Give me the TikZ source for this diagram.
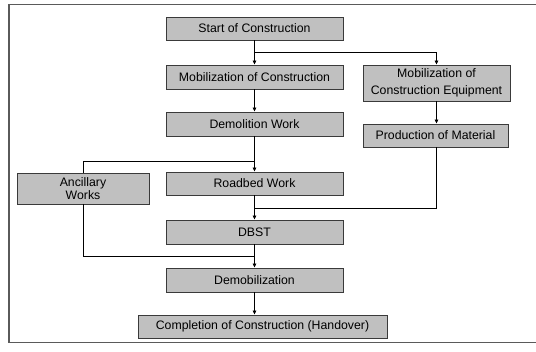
\documentclass[tikz,border=0pt]{standalone}
\usepackage{fontspec}
\setmainfont{Liberation Sans}
\usetikzlibrary{arrows.meta}
\definecolor{boxfill}{HTML}{C0C0C0}
\definecolor{boxline}{HTML}{3A3A3A}
\definecolor{framecol}{HTML}{5A5A5A}
\begin{document}
\begin{tikzpicture}[x=1pt,y=-1pt,
  stepbox/.style={draw=boxline,fill=boxfill,line width=0.9pt,inner sep=0pt,
    minimum height=23pt,align=center,font=\fontsize{12.3}{14}\selectfont},
  conn/.style={line width=0.8pt,black},
  arr/.style={conn,-{Triangle[length=4pt,width=3.6pt]}}]
\useasboundingbox (0,0) rectangle (536,352);
\draw[framecol,line width=1.4pt] (540,4.5) -- (9,4.5) -- (9,342.5) -- (540,342.5);
\node[stepbox,minimum width=177pt] (start) at (254.5,28.5) {Start of Construction};
\node[stepbox,minimum width=177pt,minimum height=24pt] (mobc) at (254.5,77) {Mobilization of Construction};
\node[stepbox,minimum width=147pt,minimum height=36pt,font=\fontsize{12.3}{17.5}\selectfont] (mobe) at (436.5,83) {Mobilization of\\Construction Equipment};
\node[stepbox,minimum width=177pt,minimum height=24pt] (demo) at (254.5,124) {Demolition Work};
\node[stepbox,minimum width=145pt] (prod) at (435.5,135.5) {Production of Material};
\node[stepbox,minimum width=132pt,minimum height=31pt,font=\fontsize{12.3}{12.5}\selectfont] (anc) at (83,188.5) {Ancillary\\Works};
\node[stepbox,minimum width=177pt] (road) at (254.5,183.5) {Roadbed Work};
\node[stepbox,minimum width=177pt,minimum height=24pt] (dbst) at (254.5,232) {DBST};
\node[stepbox,minimum width=177pt,minimum height=24pt] (demob) at (254.5,280) {Demobilization};
\node[stepbox,minimum width=249pt] (comp) at (262.5,326.5) {Completion of Construction (Handover)};
\coordinate (j1) at (254.5,52);
\coordinate (j2) at (254.5,161);
\coordinate (j3) at (254.5,208);
\coordinate (j4) at (254.5,256);
\draw[arr] (start.south) -- (mobc.north);
\draw[arr] (j1) -| (mobe.north);
\draw[arr] (mobc.south) -- (demo.north);
\draw[arr] (mobe.south) -- (prod.north -| mobe.south);
\draw[arr] (demo.south) -- (road.north);
\draw[conn] (j2) -| (anc.north);
\draw[arr] (road.south) -- (dbst.north);
\draw[conn] (prod.south -| mobe.south) |- (j3);
\draw[arr] (dbst.south) -- (demob.north);
\draw[conn] (anc.south) |- (j4);
\draw[arr] (demob.south) -- (demob.south |- comp.north);
\end{tikzpicture}
\end{document}
